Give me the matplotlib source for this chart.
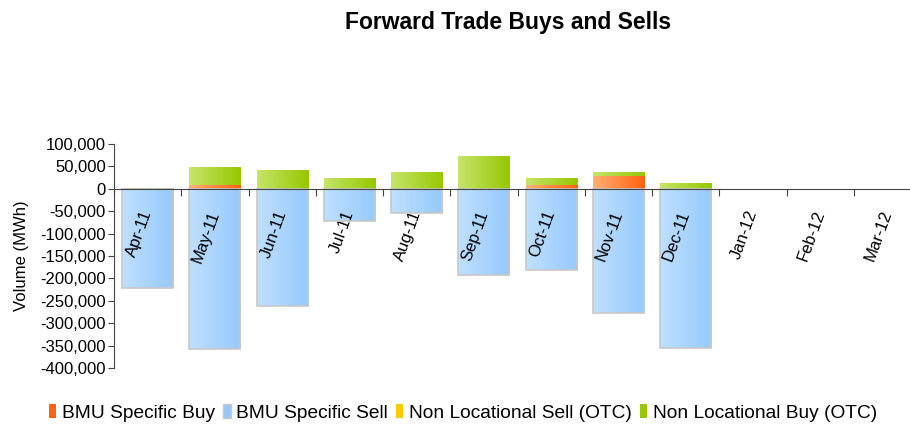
import numpy as np
import matplotlib.pyplot as plt
from matplotlib.colors import LinearSegmentedColormap
from matplotlib.patches import Patch
from matplotlib.ticker import FuncFormatter

plt.rcParams['font.family'] = ['Liberation Sans', 'DejaVu Sans']

# monthly volumes, MWh
months = ['Apr-11', 'May-11', 'Jun-11', 'Jul-11', 'Aug-11', 'Sep-11',
          'Oct-11', 'Nov-11', 'Dec-11', 'Jan-12', 'Feb-12', 'Mar-12']
bmu_buy = [0, 8000, 0, 0, 0, 0, 8000, 27500, 0, 0, 0, 0]
bmu_sell = [-222000, -358000, -261000, -71000, -54000, -193500,
            -181000, -277000, -355000, 0, 0, 0]
nl_sell = [0, 0, 0, 0, 0, 0, 0, 0, 0, 0, 0, 0]
nl_buy = [2500, 40000, 41000, 25000, 38500, 74000, 17000, 11000, 12000, 0, 0, 0]

series_names = ['BMU Specific Buy', 'BMU Specific Sell',
                'Non Locational Sell (OTC)', 'Non Locational Buy (OTC)']
# (left colour, right colour) of each gradient
shades = [('#ffb075', '#ff6210'), ('#bfe0ff', '#96c9fb'),
          ('#ffdd33', '#ffc800'), ('#c6e46a', '#96c800')]


def shade(ax, bars, c1, c2):
    cmap = LinearSegmentedColormap.from_list('g', [c1, c2])
    grad = np.linspace(0, 1, 64).reshape(1, -1)
    for b in bars:
        if b.get_height() == 0:
            continue
        x0, y0 = b.get_x(), b.get_y()
        x1, y1 = x0 + b.get_width(), y0 + b.get_height()
        im = ax.imshow(grad, cmap=cmap, aspect='auto', zorder=1.5,
                       extent=(x0, x1, min(y0, y1), max(y0, y1)))
        im.set_clip_path(b)


fig = plt.figure(figsize=(9.1, 4.28), dpi=100)
ax = fig.add_axes([114 / 910, 1 - 368 / 428, 807 / 910, 224 / 428])

x = np.arange(len(months)) + 0.5
w = 0.76

b1 = ax.bar(x, bmu_buy, w, color='none', linewidth=0)
b4 = ax.bar(x, nl_buy, w, bottom=bmu_buy, color='none', linewidth=0)
b2 = ax.bar(x, bmu_sell, w, color='none', linewidth=0)
b3 = ax.bar(x, nl_sell, w, bottom=bmu_sell, color='none', linewidth=0)

shade(ax, b1, *shades[0])
shade(ax, b2, *shades[1])
shade(ax, b3, *shades[2])
shade(ax, b4, *shades[3])

# grey outline on the sell bars (only where there is a bar)
sell = np.array(bmu_sell)
has = sell != 0
ax.bar(x[has], sell[has], w, fill=False, edgecolor='#c8c8c8', linewidth=1.2, zorder=1.6)

ax.set_xlim(0, 12)
ax.set_ylim(-400000, 100000)
ax.set_yticks(np.arange(-400000, 100001, 50000))
ax.yaxis.set_major_formatter(FuncFormatter(lambda v, p: f'{v:,.0f}'))
ax.tick_params(axis='y', labelsize=12, length=4, pad=2, color='#444444')
ax.set_ylabel('Volume (MWh)', fontsize=12)
ax.yaxis.set_label_coords(-85 / 807, 0.5)

ax.spines['top'].set_visible(False)
ax.spines['right'].set_visible(False)
ax.spines['bottom'].set_position(('data', 0))
for s in ['left', 'bottom']:
    ax.spines[s].set_color('#444444')

ax.set_xticks(np.arange(0, 13))
ax.set_xticklabels([])
ax.set_xticks(x, minor=True)
ax.set_xticklabels(months, minor=True, rotation=70, ha='right', va='center',
                   rotation_mode='anchor', fontsize=12)
ax.tick_params(axis='x', which='major', length=5, color='#444444')
ax.tick_params(axis='x', which='minor', length=0, pad=16)

fig.text(0.558, 1 - 22 / 428, 'Forward Trade Buys and Sells',
         ha='center', va='center', fontsize=16.5, fontweight='bold')

handles = [Patch(facecolor=c2, edgecolor='none') for c1, c2 in shades]
handles[1] = Patch(facecolor=shades[1][1], edgecolor='#c8c8c8')
fig.legend(handles, series_names, loc='center', bbox_to_anchor=(463 / 910, 1 - 413 / 428),
           ncol=4, frameon=False, fontsize=13.8, handlelength=0.4, handleheight=0.75,
           handletextpad=0.3, columnspacing=0.4)

fig.savefig('out.png', dpi=100)
